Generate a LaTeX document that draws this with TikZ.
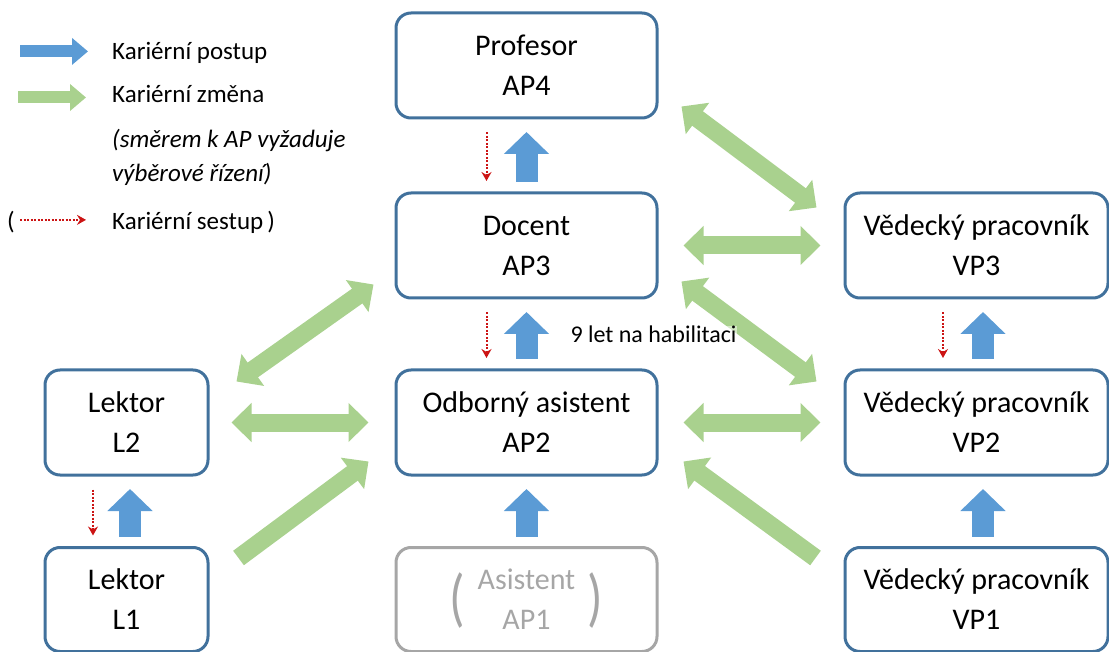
\documentclass[tikz,border=0pt]{standalone}
\usepackage{fontspec}
\setmainfont{Carlito}
\usetikzlibrary{arrows.meta, positioning, calc}
\definecolor{boxblue}{RGB}{65,113,156}
\definecolor{stepblue}{RGB}{91,155,213}
\definecolor{changegreen}{RGB}{169,209,142}
\definecolor{downred}{RGB}{204,20,20}
\definecolor{oldgray}{RGB}{166,166,166}

\begin{document}
\begin{tikzpicture}[x=1pt, y=-1pt,
        rolebox/.style={draw=boxblue, line width=3pt, rounded corners=15pt, minimum height=105pt, inner sep=0pt, align=center, font=\fontsize{30}{40}\selectfont},
        oldbox/.style={rolebox, draw=oldgray, text=oldgray},
        upstep/.style={stepblue, line width=22pt, -{Triangle[length=22pt, width=44pt]}, shorten <=9.5pt, shorten >=12.5pt},
        downstep/.style={downred, line width=2pt, dash pattern=on 2pt off 1.5pt, -{Stealth[length=9pt, width=10pt, inset=3pt]}, shorten <=13pt, shorten >=10.5pt},
        changeto/.style={changegreen, line width=18pt, -{Triangle[length=20pt, width=38pt]}},
        changeboth/.style={changegreen, line width=18pt, {Triangle[length=20pt, width=38pt]}-{Triangle[length=20pt, width=38pt]}},
        legendtext/.style={anchor=base west, inner sep=0pt, font=\fontsize{25}{34}\selectfont},
        paren/.style={inner sep=0pt, text=oldgray, font=\fontsize{64}{64}\selectfont, xscale=0.8}]
        \useasboundingbox (0,0) rectangle (1109,652);

        \node[legendtext] at (112,60) (keypostup) {Kariérní postup};
        \node[legendtext] at (112,103) (keyzmena) {Kariérní změna};
        \node[legendtext, font=\fontsize{25}{34}\selectfont\itshape] at (112,148) (keynote) {(směrem k AP vyžaduje};
        \node[legendtext, font=\fontsize{25}{34}\selectfont\itshape] at (112,182) (keynotetwo) {výběrové řízení)};
        \node[legendtext] at (112,230) (keysestup) {Kariérní sestup\,)};
        \node[legendtext] at (7,230) (keyparen) {(};
        \draw[stepblue, line width=12pt, -{Triangle[length=16pt, width=26pt]}] ([xshift=-92pt, yshift=2pt]keypostup.west) -- ([xshift=-24pt, yshift=2pt]keypostup.west);
        \draw[changegreen, line width=12pt, -{Triangle[length=16pt, width=26pt]}] ([xshift=-94pt, yshift=-3pt]keyzmena.west) -- ([xshift=-26pt, yshift=-3pt]keyzmena.west);
        \draw[downstep, shorten <=0pt, shorten >=0pt] ([xshift=-92pt, yshift=3pt]keysestup.west) -- ([xshift=-26pt, yshift=3pt]keysestup.west);

        \node[rolebox, minimum width=261pt] at (526.5,65.5) (ap4) {Profesor\\AP4};
        \node[rolebox, minimum width=261pt] at (526.5,245.5) (ap3) {Docent\\AP3};
        \node[rolebox, minimum width=261pt] at (526.5,422.5) (ap2) {Odborný asistent\\AP2};
        \node[oldbox, minimum width=261pt, minimum height=104pt] at (526.5,599.5) (ap1) {Asistent\\AP1};
        \node[paren] at ([xshift=-69.5pt, yshift=-1.5pt]ap1.center) (ap1left) {(};
        \node[paren] at ([xshift=68.5pt, yshift=-1.5pt]ap1.center) (ap1right) {)};
        \node[rolebox, minimum width=163pt] at (126.5,422.5) (l2) {Lektor\\L2};
        \node[rolebox, minimum width=163pt, minimum height=104pt] at (126.5,599.5) (l1) {Lektor\\L1};
        \node[rolebox, minimum width=263pt] at (976.5,245.5) (vp3) {Vědecký pracovník\\VP3};
        \node[rolebox, minimum width=263pt] at (976.5,422.5) (vp2) {Vědecký pracovník\\VP2};
        \node[rolebox, minimum width=263pt, minimum height=104pt] at (976.5,599.5) (vp1) {Vědecký pracovník\\VP1};

        \draw[changeboth] ($(ap4.south east)+(23,-13)$) -- ($(vp3.north west)+(-27,16)$);
        \draw[changeboth, shorten <=25pt, shorten >=23pt] (ap3) -- (vp3);
        \draw[changeboth] ($(ap3.south east)+(23,-18)$) -- ($(vp2.north west)+(-27,13)$);
        \draw[changeboth, shorten <=25pt, shorten >=23pt] (ap2) -- (vp2);
        \draw[changeto] ($(vp1.north west)+(-28,12)$) -- ($(ap2.south east)+(25,-15)$);
        \draw[changeboth] ($(ap3.south west)+(-21,-15)$) -- ($(l2.north east)+(27,13)$);
        \draw[changeboth, shorten <=22pt, shorten >=26pt] (l2) -- (ap2);
        \draw[changeto] ($(l1.north east)+(29,12)$) -- ($(ap2.south west)+(-26,-15)$);

        \draw[upstep] (ap3) -- (ap4);
        \draw[downstep] ([xshift=-40pt]ap4.south) -- ([xshift=-40pt]ap3.north);
        \draw[upstep] (ap2) -- (ap3) node[midway, right=33pt, inner sep=0pt, text=black, fill=white, fill opacity=0.5, text opacity=1, font=\fontsize{24}{34}\selectfont] {9 let na habilitaci};
        \draw[downstep] ([xshift=-40pt]ap3.south) -- ([xshift=-40pt]ap2.north);
        \draw[upstep] (ap1) -- (ap2);
        \draw[upstep] ([xshift=3.5pt]l1.north) -- ([xshift=3.5pt]l2.south);
        \draw[downstep] ([xshift=-33.5pt]l2.south) -- ([xshift=-33.5pt]l1.north);
        \draw[upstep] ([xshift=6.5pt]vp2.north) -- ([xshift=6.5pt]vp3.south);
        \draw[downstep] ([xshift=-33.5pt]vp3.south) -- ([xshift=-33.5pt]vp2.north);
        \draw[upstep] ([xshift=6.5pt]vp1.north) -- ([xshift=6.5pt]vp2.south);
\end{tikzpicture}
\end{document}
